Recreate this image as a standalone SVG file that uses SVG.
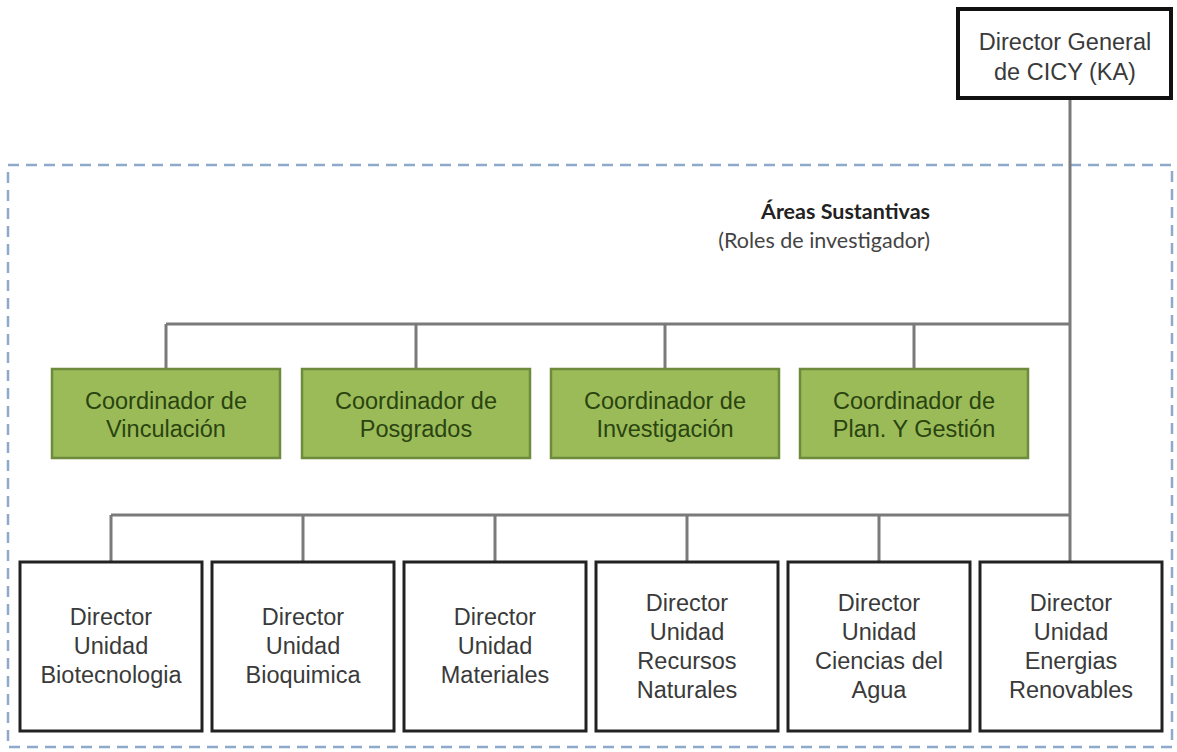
<svg xmlns="http://www.w3.org/2000/svg" width="1177" height="752" viewBox="0 0 1177 752">
<style>
.bg{fill:#ffffff}
.frame{fill:none;stroke:#8fa9c9;stroke-width:2.5;stroke-dasharray:11 7}
.conn{fill:none;stroke:#7a7a7a;stroke-width:3}
.top{fill:#ffffff;stroke:#111111;stroke-width:4}
.coord{fill:#9bbb59;stroke:#6e8a3c;stroke-width:2.5}
.unit{fill:#ffffff;stroke:#222222;stroke-width:3}
.t{font-family:"Liberation Sans",Arial,sans-serif;font-size:23.5px;text-anchor:middle;fill:#3a3a3a}
.tc{font-family:"Liberation Sans",Arial,sans-serif;font-size:23.5px;text-anchor:middle;fill:#2a4410}
.h1{font-family:Lato,"Open Sans",sans-serif;font-size:21.5px;font-weight:bold;text-anchor:end;fill:#222222}
.h2{font-family:Lato,"Open Sans",sans-serif;font-size:21.5px;text-anchor:end;fill:#444444}
</style>
<rect class="bg" x="0" y="0" width="1177" height="752"/>
<rect class="frame" x="8" y="165" width="1164" height="582"/>
<g id="title">
<text class="h1" x="930" y="219">Áreas Sustantivas</text>
<text class="h2" x="930" y="248">(Roles de investigador)</text>
</g>
<g id="connectors">
<path class="conn" d="M1070 98 V562"/>
<path class="conn" d="M166 324 H1070 M166 324 V369 M416 324 V369 M665 324 V369 M914 324 V369"/>
<path class="conn" d="M111 515 H1070 M111 515 V562 M303 515 V562 M495 515 V562 M687 515 V562 M879 515 V562"/>
</g>
<g id="director-general">
<rect class="top" x="958" y="9" width="213" height="89"/>
<text class="t" x="1065" y="50">Director General</text>
<text class="t" x="1065" y="80">de CICY (KA)</text>
</g>
<g id="coord-vinculacion">
<rect class="coord" x="52" y="369" width="228" height="89"/>
<text class="tc" x="166" y="409">Coordinador de</text>
<text class="tc" x="166" y="437">Vinculación</text>
</g>
<g id="coord-posgrados">
<rect class="coord" x="302" y="369" width="228" height="89"/>
<text class="tc" x="416" y="409">Coordinador de</text>
<text class="tc" x="416" y="437">Posgrados</text>
</g>
<g id="coord-investigacion">
<rect class="coord" x="551" y="369" width="228" height="89"/>
<text class="tc" x="665" y="409">Coordinador de</text>
<text class="tc" x="665" y="437">Investigación</text>
</g>
<g id="coord-plan">
<rect class="coord" x="800" y="369" width="228" height="89"/>
<text class="tc" x="914" y="409">Coordinador de</text>
<text class="tc" x="914" y="437">Plan. Y Gestión</text>
</g>
<g id="unit-biotecnologia">
<rect class="unit" x="20" y="562" width="182" height="169"/>
<text class="t" x="111" y="625">Director</text>
<text class="t" x="111" y="654">Unidad</text>
<text class="t" x="111" y="683">Biotecnologia</text>
</g>
<g id="unit-bioquimica">
<rect class="unit" x="212" y="562" width="182" height="169"/>
<text class="t" x="303" y="625">Director</text>
<text class="t" x="303" y="654">Unidad</text>
<text class="t" x="303" y="683">Bioquimica</text>
</g>
<g id="unit-materiales">
<rect class="unit" x="404" y="562" width="182" height="169"/>
<text class="t" x="495" y="625">Director</text>
<text class="t" x="495" y="654">Unidad</text>
<text class="t" x="495" y="683">Materiales</text>
</g>
<g id="unit-recursos">
<rect class="unit" x="596" y="562" width="182" height="169"/>
<text class="t" x="687" y="611">Director</text>
<text class="t" x="687" y="640">Unidad</text>
<text class="t" x="687" y="669">Recursos</text>
<text class="t" x="687" y="698">Naturales</text>
</g>
<g id="unit-agua">
<rect class="unit" x="788" y="562" width="182" height="169"/>
<text class="t" x="879" y="611">Director</text>
<text class="t" x="879" y="640">Unidad</text>
<text class="t" x="879" y="669">Ciencias del</text>
<text class="t" x="879" y="698">Agua</text>
</g>
<g id="unit-energias">
<rect class="unit" x="980" y="562" width="182" height="169"/>
<text class="t" x="1071" y="611">Director</text>
<text class="t" x="1071" y="640">Unidad</text>
<text class="t" x="1071" y="669">Energias</text>
<text class="t" x="1071" y="698">Renovables</text>
</g>
</svg>
